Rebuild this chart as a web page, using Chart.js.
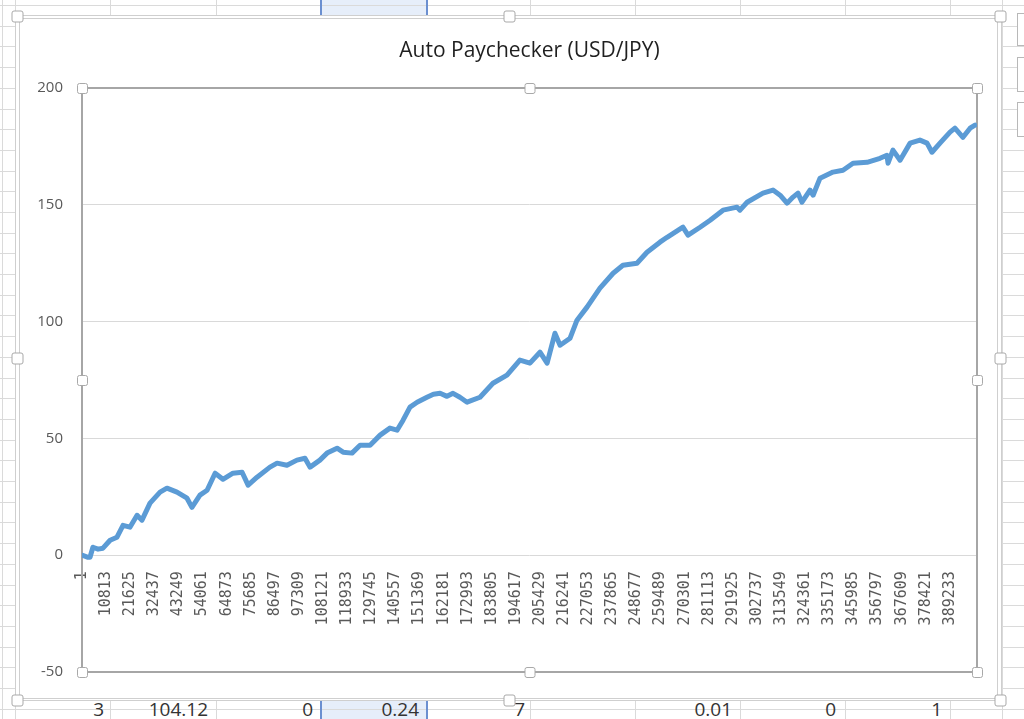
<!DOCTYPE html>
<html>
<head>
<meta charset="utf-8">
<script src="https://cdn.jsdelivr.net/npm/chart.js@4"></script>
<style>
html,body{margin:0;padding:0;width:1024px;height:719px;overflow:hidden;background:#fff;}
#sheet{position:absolute;left:0;top:0;width:1024px;height:719px;}
.vl{position:absolute;top:0;width:1px;height:719px;background:#dadada;}
.hl{position:absolute;left:0;width:1024px;height:1px;background:#dadada;}
.cell{position:absolute;top:697px;font-family:"Open Sans",sans-serif;font-size:19px;color:#333;text-align:right;line-height:24px;white-space:nowrap;}
.btn{position:absolute;left:1017px;width:20px;border:1px solid #b8b8b8;background:#fff;}
#c{position:absolute;left:0;top:0;}
</style>
</head>
<body>
<div id="sheet"></div>
<canvas id="c" width="1024" height="719"></canvas>
<script>
// ---- data ----
const pointIndex = [1,2700,3600,4900,7200,9400,12600,15700,18400,21500,24700,26900,30500,35000,38100,42600,47100,49300,52900,56100,59700,63200,67700,71800,74500,78500,84300,87500,91900,96400,100000,102300,106700,109900,114400,117100,121100,124700,129200,133700,138100,141300,144000,147100,150300,154700,157600,160600,163700,166400,169500,172700,178500,184300,190600,196400,200900,205400,208600,212100,214400,218900,222000,226500,232300,238200,242600,248900,253400,259200,262400,269500,271800,277200,281700,287500,293800,295100,298300,305400,309900,313100,316200,318900,321100,322900,326500,327900,331000,336800,341300,345800,352100,357900,361000,361500,363700,366900,371400,375800,379000,381200,384800,389300,391500,395100,398300,400500];
const profit = [0,-0.9,-0.9,3.4,2.6,3.0,6.4,7.7,12.8,12.0,17.1,15.0,22.3,27.0,28.7,27.0,24.4,20.5,25.7,27.8,35.1,32.5,35.1,35.5,30.0,33.4,37.7,39.4,38.5,40.7,41.5,37.7,40.7,43.7,45.8,44.1,43.7,47.1,47.1,51.4,54.4,53.5,57.8,63.4,65.5,67.6,68.9,69.3,68.0,69.3,67.6,65.5,67.6,73.6,77.1,83.5,82.2,86.9,82.2,95.0,89.9,92.9,100.6,106.2,114.3,120.7,124.1,125.0,129.7,134.0,136.1,140.4,137.0,140.4,143.4,147.7,149.0,147.7,151.1,155.0,156.3,154.1,150.7,153.3,155.0,151.1,156.3,154.1,161.4,164.0,164.8,167.8,168.2,169.9,171.2,167.8,173.4,169.1,176.4,177.7,176.4,172.5,176.4,181.1,182.8,178.9,182.8,184.1];
const xTickLabels = [1,10813,21625,32437,43249,54061,64873,75685,86497,97309,108121,118933,129745,140557,151369,162181,172993,183805,194617,205429,216241,227053,237865,248677,259489,270301,281113,291925,302737,313549,324361,335173,345985,356797,367609,378421,389233];
const yTickLabels = [-50,0,50,100,150,200];
const lastIndex = 401400;
const chartTitle = "Auto Paychecker (USD/JPY)";
const bottomCells = [["3",15,104],["104.12",110,208],["0",216,313],["0.24",320,419],["7",426,525],["0.01",635,732],["0",740,836],["1",845,942]];

// ---- spreadsheet backdrop ----
const sheet = document.getElementById('sheet');
const colX = [2,15,110,216,320,426,530,635,740,845,950,1002];
const sel = document.createElement('div');
sel.style.cssText = 'position:absolute;left:320px;top:0;width:106px;height:719px;background:#e6eefa;';
sheet.appendChild(sel);
for (let y = 5; y < 719; y += 20.7) {
  const d = document.createElement('div'); d.className = 'hl'; d.style.top = Math.round(y) + 'px'; sheet.appendChild(d);
}
colX.forEach(x => { const d = document.createElement('div'); d.className = 'vl'; d.style.left = x + 'px'; sheet.appendChild(d); });
[320,426].forEach(x => { const d = document.createElement('div'); d.className = 'vl'; d.style.left = x + 'px'; d.style.width='2px'; d.style.background = '#6b8fd0'; sheet.appendChild(d); });
bottomCells.forEach(([t, l, r]) => {
  const d = document.createElement('div'); d.className = 'cell';
  d.style.left = l + 'px'; d.style.width = (r - l) + 'px'; d.textContent = t; sheet.appendChild(d);
});
[[13,31],[57,33],[102,33]].forEach(([t,h]) => { const b = document.createElement('div'); b.className='btn'; b.style.top=t+'px'; b.style.height=h+'px'; sheet.appendChild(b); });

// ---- chart decorations (Excel selection frame) ----
function handle(ctx, x, y, s) {
  ctx.save();
  ctx.fillStyle = '#fff'; ctx.strokeStyle = '#a9a9a9'; ctx.lineWidth = 1;
  ctx.beginPath();
  if (ctx.roundRect) ctx.roundRect(x - s/2 + 0.5, y - s/2 + 0.5, s, s, 2); else ctx.rect(x - s/2 + 0.5, y - s/2 + 0.5, s, s);
  ctx.fill(); ctx.stroke(); ctx.restore();
}
const framePlugin = {
  id: 'frame',
  beforeDraw(chart) {
    const ctx = chart.ctx;
    ctx.save();
    ctx.fillStyle = '#fff';
    ctx.fillRect(15, 15, 987, 686);
    ctx.strokeStyle = '#cfcfcf'; ctx.lineWidth = 1;
    ctx.strokeRect(15.5, 15.5, 986, 685);
    ctx.strokeRect(19.5, 18.5, 978, 680);
    ctx.restore();
  },
  beforeDatasetsDraw(chart) {
    const {ctx, chartArea: a} = chart;
    ctx.save();
    ctx.strokeStyle = '#a6a6a6'; ctx.lineWidth = 2;
    ctx.strokeRect(a.left, a.top, a.right - a.left, a.bottom - a.top);
    ctx.restore();
  },
  afterDraw(chart) {
    const {ctx, chartArea: a} = chart;
    const mx = (a.left + a.right) / 2, my = (a.top + a.bottom) / 2;
    [[a.left,a.top],[mx,a.top],[a.right,a.top],[a.left,my],[a.right,my],[a.left,a.bottom],[mx,a.bottom],[a.right,a.bottom]].forEach(p => handle(ctx, p[0], p[1], 10));
    [[17,16],[509,16],[1000,16],[17,358],[1000,358],[17,700],[509,700],[1000,700]].forEach(p => handle(ctx, p[0], p[1], 11));
  }
};

new Chart(document.getElementById('c'), {
  type: 'line',
  data: {
    datasets: [{
      data: pointIndex.map((x, i) => ({x: x, y: profit[i]})),
      borderColor: '#5b9bd5',
      borderWidth: 5,
      pointRadius: 0,
      tension: 0,
      borderJoinStyle: 'round',
      borderCapStyle: 'round',
      fill: false
    }]
  },
  options: {
    responsive: false,
    animation: false,
    layout: {padding: {left: 0, right: 47, top: 0, bottom: 47}},
    plugins: {
      legend: {display: false},
      tooltip: {enabled: false},
      title: {
        display: true, text: chartTitle, color: '#1f1f1f', fullSize: false,
        font: {family: 'Open Sans', size: 21, weight: 'normal'},
        padding: {top: 38, bottom: 24.8}
      }
    },
    scales: {
      x: {
        type: 'linear', min: 1, max: lastIndex,
        position: {y: 0},
        grid: {display: false, drawTicks: false},
        border: {display: false},
        afterBuildTicks: s => { s.ticks = xTickLabels.map(v => ({value: v})); },
        afterFit: s => { s.height = 0; },
        ticks: {
          autoSkip: false, minRotation: 90, maxRotation: 90, padding: 16,
          color: '#595959', font: {family: 'DejaVu Sans Mono', size: 15},
          callback: v => String(v)
        }
      },
      y: {
        min: -50, max: 200,
        afterBuildTicks: s => { s.ticks = yTickLabels.map(v => ({value: v})); },
        afterFit: s => { s.width = 82; },
        grid: {color: '#d9d9d9', drawTicks: false, lineWidth: 1},
        border: {display: false},
        ticks: {
          padding: 19, color: '#595959',
          font: {family: 'Open Sans', size: 15},
          callback: v => String(v)
        }
      }
    }
  },
  plugins: [framePlugin]
});
</script>
</body>
</html>
